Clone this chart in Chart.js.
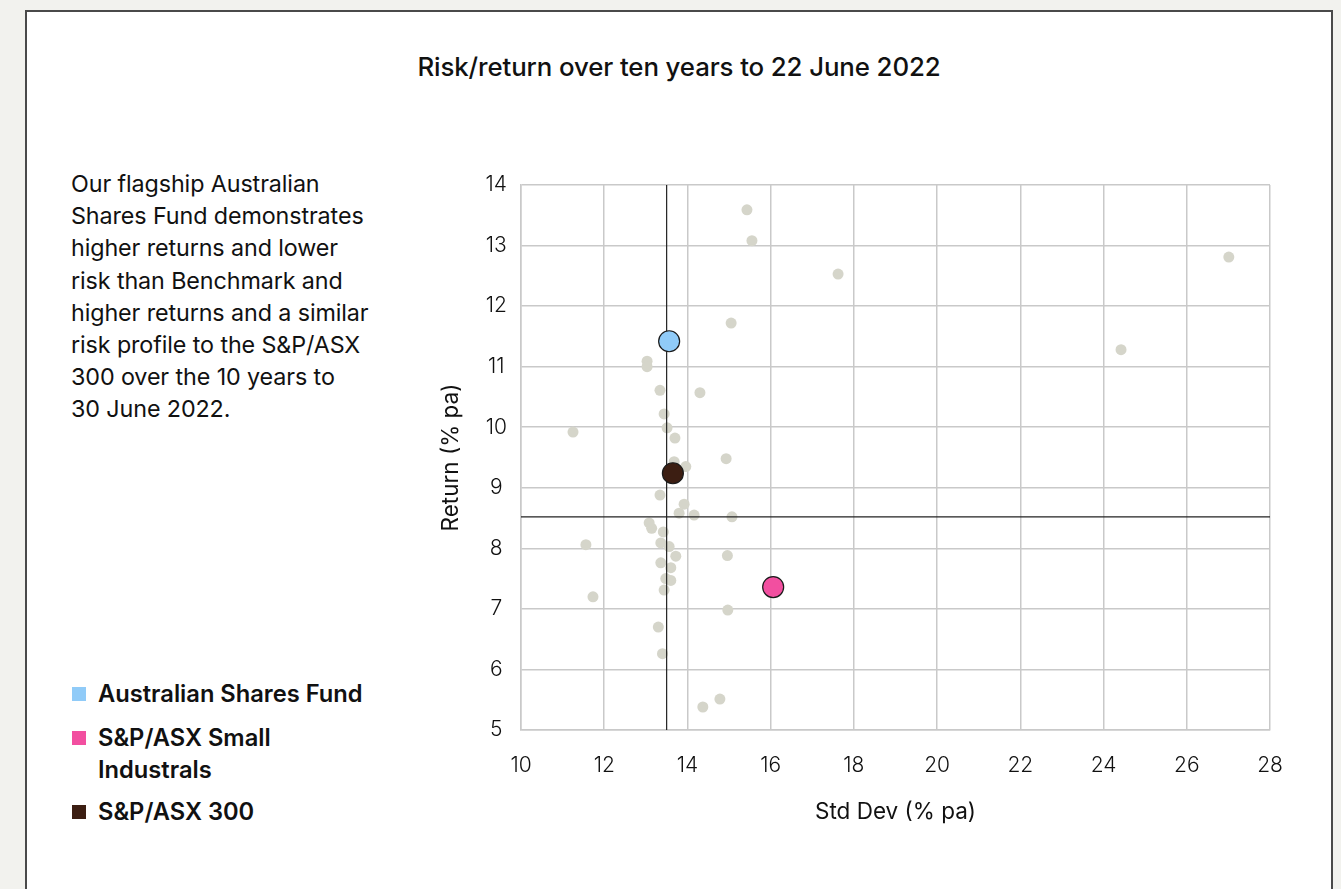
<!DOCTYPE html>
<html>
<head>
<meta charset="utf-8">
<script src="https://cdn.jsdelivr.net/npm/chart.js@4/dist/chart.umd.min.js"></script>
<style>
  html, body { margin: 0; padding: 0; }
  body { width: 1341px; height: 889px; background: #f2f2ee; position: relative; overflow: hidden; font-family: Inter, "Liberation Sans", sans-serif; color: #111; }
  .card { position: absolute; left: 25px; top: 10px; width: 1304px; height: 900px; background: #fff; border: 2px solid #4a4a4a; border-bottom: none; }
  .title { position: absolute; left: 0; top: 50px; width: 1358px; text-align: center; font-size: 25.8px; font-weight: 500; line-height: 34px; letter-spacing: -0.1px; }
  .note { position: absolute; left: 71px; top: 168px; width: 360px; font-size: 23.3px; line-height: 32.2px; font-weight: 400; letter-spacing: -0.1px; }
  .legend { position: absolute; left: 72px; top: 678px; font-size: 23.7px; font-weight: 600; line-height: 32px; }
  .legend .item { position: absolute; left: 0; white-space: nowrap; }
  .legend .sw { position: absolute; left: 0; width: 14px; height: 14px; }
  .legend .lbl { position: absolute; left: 26px; }
  .plot { position: absolute; left: 420px; top: 160px; width: 880px; height: 680px; }
</style>
</head>
<body>
<div class="card"></div>
<div class="title">Risk/return over ten years to 22 June 2022</div>
<div class="note">Our flagship Australian<br>Shares Fund demonstrates<br>higher returns and lower<br>risk than Benchmark and<br>higher returns and a similar<br>risk profile to the S&amp;P/ASX<br>300 over the 10 years to<br>30 June 2022.</div>
<div class="legend" id="legend"></div>
<div class="plot"><canvas id="chart" width="880" height="680"></canvas></div>
<script>
// Peer funds: standard deviation (% pa) and return (% pa)
const peerStdDev = [15.43, 15.55, 17.62, 27.01, 15.05, 24.42, 13.03, 13.03, 13.34, 14.30,
                    13.44, 13.51, 13.70, 11.25, 14.93, 13.68, 13.96, 13.34, 13.92, 13.80,
                    14.16, 15.07, 13.08, 13.14, 13.42, 13.36, 13.56, 13.72, 14.96, 13.36,
                    13.60, 13.48, 13.60, 13.44, 14.97, 13.30, 13.40, 11.56, 11.73, 14.78, 14.37];
const peerReturn = [13.59, 13.08, 12.53, 12.81, 11.72, 11.28, 11.09, 11.00, 10.61, 10.57,
                    10.22, 9.99, 9.82, 9.92, 9.48, 9.43, 9.35, 8.88, 8.73, 8.58,
                    8.55, 8.52, 8.42, 8.33, 8.27, 8.09, 8.03, 7.87, 7.88, 7.76,
                    7.68, 7.50, 7.47, 7.31, 6.98, 6.70, 6.26, 8.06, 7.20, 5.51, 5.38];

// Highlighted funds and indices
const seriesNames = ['Australian Shares Fund', 'S&P/ASX Small Industrals', 'S&P/ASX 300'];
const seriesLegendLines = [['Australian Shares Fund'], ['S&P/ASX Small', 'Industrals'], ['S&P/ASX 300']];
const seriesStdDev = [13.56, 16.06, 13.65];
const seriesReturn = [11.42, 7.36, 9.24];
const seriesColors = ['#90cbf8', '#f24fa0', '#3c1e12'];

// Cross-hair reference values
const refStdDev = 13.5;
const refReturn = 8.52;

// Axis ranges and ticks
const xTicks = [10, 12, 14, 16, 18, 20, 22, 24, 26, 28];
const yTicks = [5, 6, 7, 8, 9, 10, 11, 12, 13, 14];

// HTML legend
const legendEl = document.getElementById('legend');
const legendTops = [0, 44, 118];
seriesNames.forEach((name, i) => {
  const item = document.createElement('div');
  item.className = 'item';
  item.style.top = legendTops[i] + 'px';
  const sw = document.createElement('span');
  sw.className = 'sw';
  sw.style.background = seriesColors[i];
  sw.style.top = '9px';
  const lbl = document.createElement('span');
  lbl.className = 'lbl';
  lbl.innerHTML = seriesLegendLines[i].map(s => s.replace('&', '&amp;')).join('<br>');
  item.appendChild(sw);
  item.appendChild(lbl);
  legendEl.appendChild(item);
});

const datasets = [];
seriesNames.forEach((name, i) => {
  datasets.push({
    label: name,
    data: [{ x: seriesStdDev[i], y: seriesReturn[i] }],
    backgroundColor: seriesColors[i],
    borderColor: '#1a1a1a',
    borderWidth: 1.2,
    pointRadius: 10.5,
    order: 0
  });
});
datasets.push({
  label: 'ref-x',
  data: [{ x: refStdDev, y: yTicks[0] }, { x: refStdDev, y: yTicks[yTicks.length - 1] }],
  showLine: true, borderColor: '#222', borderWidth: 1.2, pointRadius: 0, order: 1
});
datasets.push({
  label: 'ref-y',
  data: [{ x: xTicks[0], y: refReturn }, { x: xTicks[xTicks.length - 1], y: refReturn }],
  showLine: true, borderColor: '#222', borderWidth: 1.2, pointRadius: 0, order: 1
});
datasets.push({
  label: 'Peers',
  data: peerStdDev.map((x, i) => ({ x, y: peerReturn[i] })),
  backgroundColor: '#d5d5ca',
  borderWidth: 0,
  pointRadius: 5.5,
  order: 2
});

const tickFont = { family: 'Inter, "Liberation Sans", sans-serif', size: 21, weight: 300 };
const titleFont = { family: 'Inter, "Liberation Sans", sans-serif', size: 22.5, weight: 400 };

// Grid: invisible tick marks give the label gap without widening the plot margins
const gridOpts = (gap) => ({
  color: '#c9c9c9', lineWidth: 1.5,
  drawTicks: true, tickLength: gap, tickColor: 'rgba(0,0,0,0)', tickWidth: 0
});

new Chart(document.getElementById('chart'), {
  type: 'scatter',
  data: { datasets },
  options: {
    responsive: false,
    animation: false,
    layout: { autoPadding: false, padding: { top: 25, right: 30, left: 0, bottom: 0 } },
    plugins: { legend: { display: false }, tooltip: { enabled: false } },
    scales: {
      x: {
        type: 'linear',
        min: xTicks[0], max: xTicks[xTicks.length - 1],
        afterBuildTicks: s => { s.ticks = xTicks.map(v => ({ value: v })); },
        afterFit: s => { s.height = 110; },
        grid: gridOpts(23),
        border: { color: '#c9c9c9', width: 1.5 },
        ticks: { color: '#111', font: tickFont, padding: 0, maxRotation: 0 },
        title: { display: true, text: 'Std Dev (% pa)', color: '#111', font: titleFont, padding: { top: 0, bottom: 14 } }
      },
      y: {
        type: 'linear',
        min: yTicks[0], max: yTicks[yTicks.length - 1],
        afterBuildTicks: s => { s.ticks = yTicks.map(v => ({ value: v })); },
        afterFit: s => { s.width = 101; },
        grid: gridOpts(14),
        border: { color: '#c9c9c9', width: 1.5 },
        ticks: { color: '#111', font: tickFont, padding: 0, crossAlign: 'center' },
        title: { display: true, text: 'Return (% pa)', color: '#111', font: titleFont, padding: { top: 18, bottom: 0 } }
      }
    }
  }
});
</script>
</body>
</html>
